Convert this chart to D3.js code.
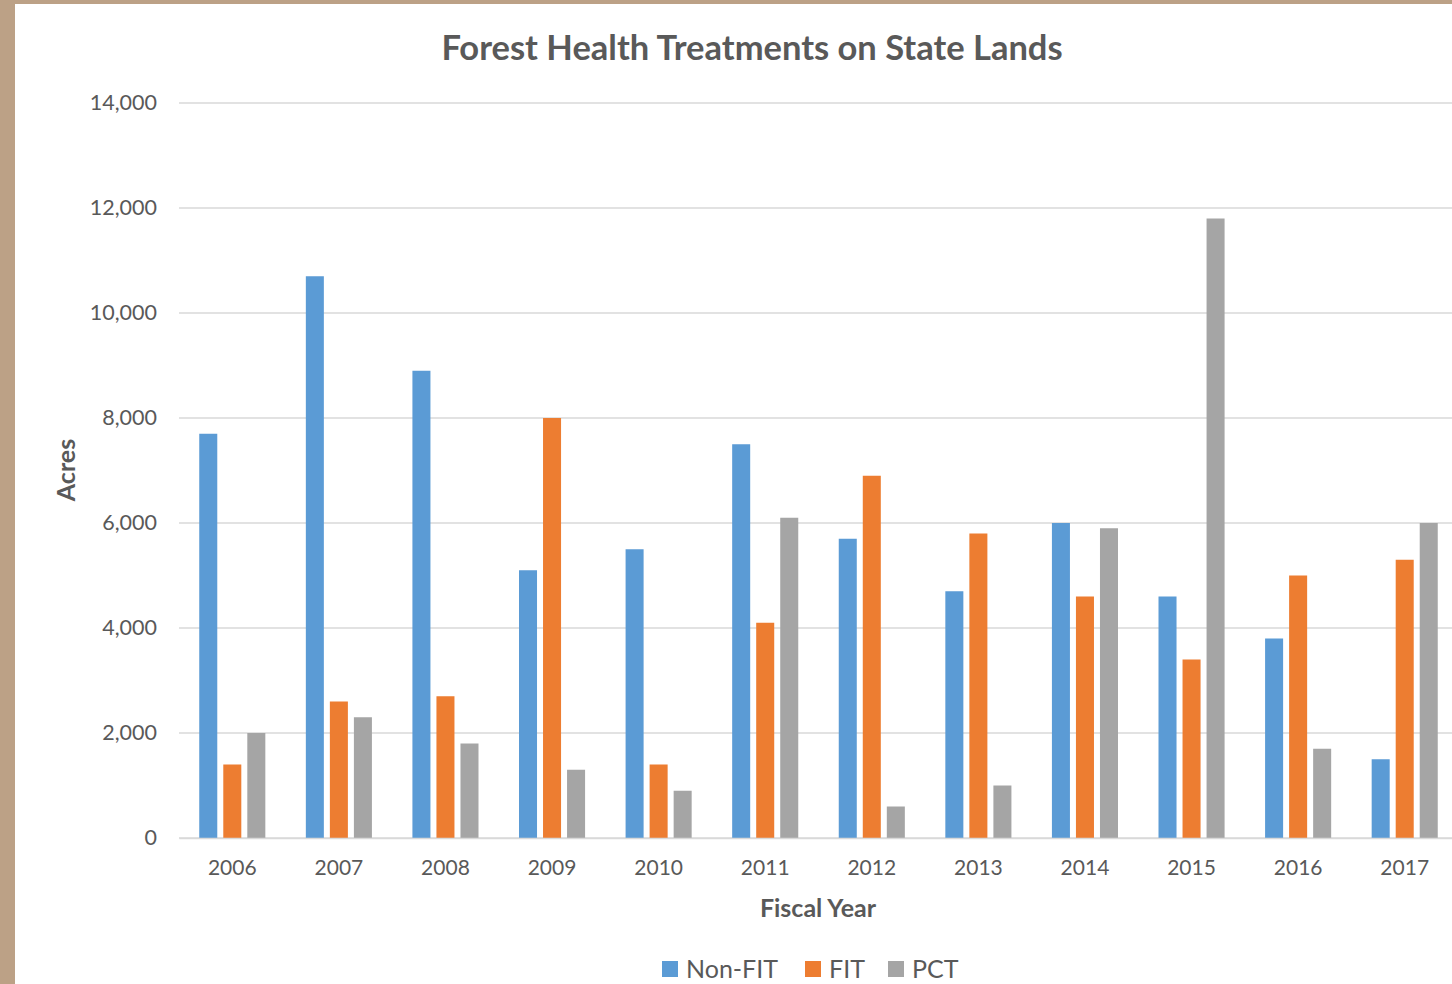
<!DOCTYPE html>
<html>
<head>
<meta charset="utf-8">
<script src="https://cdn.jsdelivr.net/npm/d3@7"></script>
<style>
  html, body { margin: 0; padding: 0; background: #fff; overflow: hidden; }
  text { font-family: Lato, "Open Sans", sans-serif; fill: #595959; }
</style>
</head>
<body>
<svg id="chart" width="1452" height="984"></svg>
<script>
// fiscal years on the x axis
const years = ["2006", "2007", "2008", "2009", "2010", "2011", "2012", "2013", "2014", "2015", "2016", "2017"];
const seriesNames = ["Non-FIT", "FIT", "PCT"];
const seriesColors = ["#5B9BD5", "#ED7D31", "#A5A5A5"];

// acres per year
const nonFit = [7700, 10700, 8900, 5100, 5500, 7500, 5700, 4700, 6000, 4600, 3800, 1500];
const fit    = [1400, 2600, 2700, 8000, 1400, 4100, 6900, 5800, 4600, 3400, 5000, 5300];
const pct    = [2000, 2300, 1800, 1300, 900, 6100, 600, 1000, 5900, 11800, 1700, 6000];

const yTicks = [0, 2000, 4000, 6000, 8000, 10000, 12000, 14000];

const svg = d3.select("#chart");
const W = 1452, H = 984;

// page frame (tan strip on the left and top)
svg.append("rect").attr("width", W).attr("height", H).attr("fill", "#BCA186");
svg.append("rect").attr("x", 15).attr("y", 4).attr("width", W - 15).attr("height", H - 4).attr("fill", "#fff");

const plotLeft = 179, plotRight = 1458, plotTop = 103, plotBottom = 838;

const x0 = d3.scaleBand().domain(years).range([plotLeft, plotRight]).paddingInner(0.38).paddingOuter(0.19);
const x1 = d3.scaleBand().domain(seriesNames).range([0, x0.bandwidth()]).paddingInner(0.25);
const y = d3.scaleLinear().domain([0, 14000]).range([plotBottom, plotTop]);

// gridlines
svg.append("g")
  .selectAll("line")
  .data(yTicks)
  .join("line")
  .attr("x1", plotLeft).attr("x2", plotRight)
  .attr("y1", d => y(d)).attr("y2", d => y(d))
  .attr("stroke", "#D9D9D9").attr("stroke-width", 1.5);

// y axis labels
const yAxis = d3.axisLeft(y).tickValues(yTicks).tickSize(0).tickPadding(22).tickFormat(d3.format(","));
svg.append("g")
  .attr("transform", `translate(${plotLeft},0)`)
  .call(yAxis)
  .call(g => g.select(".domain").remove())
  .selectAll("text")
  .style("font-size", "21.5px").attr("fill", "#595959");

// bars
const rows = years.map((yr, i) => ({ year: yr, values: [nonFit[i], fit[i], pct[i]] }));
const groups = svg.append("g")
  .selectAll("g")
  .data(rows)
  .join("g")
  .attr("transform", d => `translate(${x0(d.year)},0)`);

groups.selectAll("rect")
  .data(d => d.values.map((v, k) => ({ name: seriesNames[k], value: v, color: seriesColors[k] })))
  .join("rect")
  .attr("x", d => x1(d.name))
  .attr("width", x1.bandwidth())
  .attr("y", d => y(d.value))
  .attr("height", d => plotBottom - y(d.value))
  .attr("fill", d => d.color);

// x axis
const xAxis = d3.axisBottom(x0).tickSize(0).tickPadding(22);
svg.append("g")
  .attr("transform", `translate(0,${plotBottom})`)
  .call(xAxis)
  .call(g => g.select(".domain").attr("stroke", "#D9D9D9").attr("stroke-width", 1.5))
  .selectAll("text")
  .style("font-size", "21px").attr("fill", "#595959");

// titles
svg.append("text")
  .attr("x", 752).attr("y", 60)
  .attr("text-anchor", "middle")
  .style("font-size", "34.5px").style("font-weight", "bold")
  .text("Forest Health Treatments on State Lands");

svg.append("text")
  .attr("x", 818).attr("y", 917)
  .attr("text-anchor", "middle")
  .style("font-size", "25px").style("font-weight", "bold")
  .text("Fiscal Year");

svg.append("text")
  .attr("transform", "translate(75,470) rotate(-90)")
  .attr("text-anchor", "middle")
  .style("font-size", "25px").style("font-weight", "bold")
  .text("Acres");

// legend
const legendX = [662, 805, 888];
const legend = svg.append("g")
  .selectAll("g")
  .data(seriesNames)
  .join("g")
  .attr("transform", (d, i) => `translate(${legendX[i]},961)`);
legend.append("rect").attr("width", 16).attr("height", 16).attr("fill", (d, i) => seriesColors[i]);
legend.append("text").attr("x", 24).attr("y", 17).style("font-size", "25px").text(d => d);
</script>
</body>
</html>
